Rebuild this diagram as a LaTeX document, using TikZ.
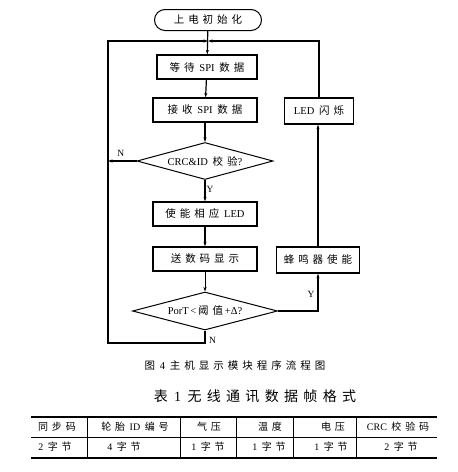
\documentclass[tikz,border=0pt]{standalone}
\usepackage{fontspec}
\setmainfont{Liberation Serif}
\newfontfamily\cjk[LetterSpace=38]{Noto Sans CJK SC}
\newcommand{\zh}[1]{{\cjk #1}}
\newcommand{\gap}{\hspace{0.45em}}
\usetikzlibrary{arrows.meta,shapes.geometric}
\tikzset{
  procbox/.style={draw, line width=1.2pt, minimum width=102pt,
    minimum height=24pt, inner sep=2pt, font=\fontsize{10.5}{12}\selectfont},
  decide/.style={draw, diamond, line width=1pt, aspect=3.6,
    minimum width=136pt, minimum height=37pt, inner sep=0pt,
    font=\fontsize{10.5}{12}\selectfont},
  flow/.style={line width=1.2pt, -{Stealth[length=4.5pt,width=3pt]}},
  tag/.style={font=\fontsize{9.5}{10}\selectfont, inner sep=1pt},
  cell/.style={font=\fontsize{10}{11}\selectfont, inner sep=1pt}
}

\begin{document}
\begin{tikzpicture}[x=1pt,y=-1pt]
  \useasboundingbox (0,0) rectangle (458,472);
  % flow chart
  \node[draw, line width=1pt, rounded corners=10.5pt, minimum width=107pt,
    minimum height=21pt, font=\fontsize{10.5}{12}\selectfont] (start) at (208,20) {\zh{上电初始化}};
  \node[procbox, minimum width=100pt] (wait) at (207,67) {\zh{等待}\gap SPI\gap\zh{数据}};
  \node[procbox, minimum width=104pt] (recv) at (205,110) {\zh{接收}\gap SPI\gap\zh{数据}};
  \node[decide] (check) at (205,161) {CRC\&ID\gap\zh{校验}?};
  \node[procbox, minimum width=104pt] (enled) at (205,214) {\zh{使能相应}\gap LED};
  \node[procbox, minimum width=104pt] (disp) at (205,259) {\zh{送数码显示}};
  \node[decide, minimum width=145pt, minimum height=38pt] (thr) at (205,311) {PorT\,<\,\zh{阈值}\,+Δ?};
  \node[procbox, minimum width=83pt, minimum height=26pt] (buzz) at (318,260) {\zh{蜂鸣器使能}};
  \node[procbox, minimum width=69pt, minimum height=26pt] (blink) at (319,111) {LED\gap\zh{闪烁}};

  \coordinate (join) at (208,41);
  \coordinate (corner) at (108,343);

  \draw[flow] (start) -- (wait);
  \draw[flow] (wait) -- (recv);
  \draw[flow] (recv) -- (check);
  \draw[flow] (check) -- node[tag, right, pos=0.45] {Y} (enled);
  \draw[flow] (enled) -- (disp);
  \draw[flow, line width=0.8pt] (disp) -- (thr);
  \draw[flow] (check.west) -- node[tag, above, pos=0.55, yshift=3pt] {N} (check.west -| corner);
  \draw[flow] (thr.south) |- (corner) |- (join);
  \draw[flow] (thr.east) -| node[tag, left, pos=0.72, xshift=-2pt] {Y} (buzz.south);
  \draw[flow] (buzz.north) -- (buzz.north |- blink.south);
  \draw[flow] (blink.north) |- (join);
  \node[tag, anchor=west] (nlab) at (208,340) {N};

  % captions
  \node[font=\fontsize{10.5}{12}\selectfont] (figcap) at (235,365) {\zh{图}\gap 4\gap\zh{主机显示模块程序流程图}};
  \node[font=\fontsize{14}{16}\selectfont] (tabcap) at (255,396) {\zh{表}\gap 1\gap\zh{无线通讯数据帧格式}};

  % table
  \draw[line width=1.3pt] (31,417) -- (437,417);
  \draw[line width=0.6pt] (31,437) -- (437,437);
  \draw[line width=1.3pt] (31,458) -- (437,458);
  \foreach \x in {87,180,236,293,356}
    \draw[line width=1pt] (\x,417) -- (\x,458);

  \node[cell] (h1) at (57,427) {\zh{同步码}};
  \node[cell] (h2) at (135,427) {\zh{轮胎}\gap ID\gap\zh{编号}};
  \node[cell] (h3) at (209,427) {\zh{气压}};
  \node[cell] (h4) at (270,427) {\zh{温度}};
  \node[cell] (h5) at (333,427) {\zh{电压}};
  \node[cell] (h6) at (398,427) {CRC\gap\zh{校验码}};
  \node[cell] (v1) at (55,447) {2\gap\zh{字节}};
  \node[cell] (v2) at (124,447) {4\gap\zh{字节}};
  \node[cell] (v3) at (208,447) {1\gap\zh{字节}};
  \node[cell] (v4) at (269,447) {1\gap\zh{字节}};
  \node[cell] (v5) at (331,447) {1\gap\zh{字节}};
  \node[cell] (v6) at (401,447) {2\gap\zh{字节}};
\end{tikzpicture}
\end{document}
